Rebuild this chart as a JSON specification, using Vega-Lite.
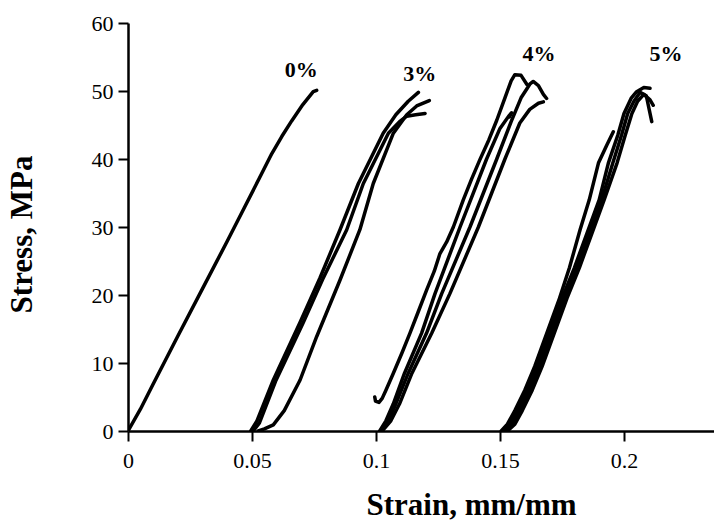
{
  "$schema": "https://vega.github.io/schema/vega-lite/v6.json",
  "width": 586,
  "height": 408,
  "autosize": {"type": "none"},
  "padding": {"left": 128, "top": 23, "right": 0, "bottom": 89},
  "background": "white",
  "config": {"view": {"stroke": null}, "font": "Liberation Serif"},
  "layer": [
    {
      "data": {"values": [
        {"c":"0a","x":0,"y":0},{"c":"0a","x":0.005,"y":3.2},{"c":"0a","x":0.01,"y":6.8},{"c":"0a","x":0.02,"y":13.9},{"c":"0a","x":0.03,"y":20.9},{"c":"0a","x":0.04,"y":27.9},{"c":"0a","x":0.047,"y":32.9},{"c":"0a","x":0.053,"y":37.2},{"c":"0a","x":0.058,"y":40.8},{"c":"0a","x":0.062,"y":43.3},{"c":"0a","x":0.066,"y":45.6},{"c":"0a","x":0.0705,"y":48},{"c":"0a","x":0.0747,"y":49.9},{"c":"0a","x":0.0761,"y":50.1},

        {"c":"3a","x":0.0495,"y":0},{"c":"3a","x":0.052,"y":1.5},{"c":"3a","x":0.0586,"y":7.5},{"c":"3a","x":0.0694,"y":16},{"c":"3a","x":0.0774,"y":22.5},{"c":"3a","x":0.0855,"y":29.6},{"c":"3a","x":0.0929,"y":36.4},{"c":"3a","x":0.1029,"y":43.8},{"c":"3a","x":0.108,"y":46.5},{"c":"3a","x":0.113,"y":48.5},{"c":"3a","x":0.1171,"y":49.8},

        {"c":"3b","x":0.0505,"y":0},{"c":"3b","x":0.053,"y":1.2},{"c":"3b","x":0.0595,"y":7.3},{"c":"3b","x":0.0705,"y":15.8},{"c":"3b","x":0.0785,"y":22.3},{"c":"3b","x":0.0882,"y":29.6},{"c":"3b","x":0.0949,"y":36.4},{"c":"3b","x":0.105,"y":43.8},{"c":"3b","x":0.1095,"y":45.5},{"c":"3b","x":0.1124,"y":46.3},{"c":"3b","x":0.116,"y":46.5},{"c":"3b","x":0.1198,"y":46.7},

        {"c":"3c","x":0.0525,"y":0},{"c":"3c","x":0.055,"y":0.3},{"c":"3c","x":0.0586,"y":0.9},{"c":"3c","x":0.063,"y":3},{"c":"3c","x":0.0694,"y":7.5},{"c":"3c","x":0.0761,"y":13.9},{"c":"3c","x":0.0855,"y":22.2},{"c":"3c","x":0.0935,"y":29.6},{"c":"3c","x":0.0989,"y":36.4},{"c":"3c","x":0.107,"y":43.8},{"c":"3c","x":0.1124,"y":46.5},{"c":"3c","x":0.1164,"y":47.8},{"c":"3c","x":0.1215,"y":48.6},

        {"c":"4a","x":0.0995,"y":5.0},{"c":"4a","x":0.0998,"y":4.4},{"c":"4a","x":0.1012,"y":4.2},{"c":"4a","x":0.1025,"y":4.8},{"c":"4a","x":0.104,"y":6},{"c":"4a","x":0.107,"y":8.5},{"c":"4a","x":0.1105,"y":11.5},{"c":"4a","x":0.1137,"y":14.4},{"c":"4a","x":0.117,"y":17.5},{"c":"4a","x":0.1204,"y":20.7},{"c":"4a","x":0.1235,"y":23.5},{"c":"4a","x":0.1258,"y":26.1},{"c":"4a","x":0.1285,"y":27.8},{"c":"4a","x":0.1312,"y":30},{"c":"4a","x":0.1352,"y":34},{"c":"4a","x":0.1385,"y":37},{"c":"4a","x":0.1419,"y":39.9},{"c":"4a","x":0.1455,"y":42.8},{"c":"4a","x":0.1487,"y":45.7},{"c":"4a","x":0.152,"y":49},{"c":"4a","x":0.1545,"y":51.5},{"c":"4a","x":0.156,"y":52.4},{"c":"4a","x":0.1585,"y":52.3},{"c":"4a","x":0.1608,"y":51},

        {"c":"4c","x":0.1015,"y":0},{"c":"4c","x":0.104,"y":1.5},{"c":"4c","x":0.107,"y":4},{"c":"4c","x":0.1115,"y":8.5},{"c":"4c","x":0.1184,"y":14.4},{"c":"4c","x":0.1238,"y":20.2},{"c":"4c","x":0.1339,"y":30},{"c":"4c","x":0.1446,"y":40},{"c":"4c","x":0.15,"y":44.5},{"c":"4c","x":0.1535,"y":46.3},{"c":"4c","x":0.1547,"y":46.8},{"c":"4c","x":0.1538,"y":46.2},

        {"c":"4b","x":0.102,"y":0},{"c":"4b","x":0.105,"y":1.5},{"c":"4b","x":0.108,"y":4},{"c":"4b","x":0.113,"y":8.5},{"c":"4b","x":0.1204,"y":14.4},{"c":"4b","x":0.1265,"y":20.2},{"c":"4b","x":0.1379,"y":30},{"c":"4b","x":0.1487,"y":40},{"c":"4b","x":0.1545,"y":45.5},{"c":"4b","x":0.1585,"y":49},{"c":"4b","x":0.1608,"y":50.3},{"c":"4b","x":0.162,"y":51},{"c":"4b","x":0.1634,"y":51.4},{"c":"4b","x":0.1655,"y":50.8},{"c":"4b","x":0.1675,"y":49.5},{"c":"4b","x":0.1688,"y":48.9},

        {"c":"4d","x":0.1025,"y":0},{"c":"4d","x":0.106,"y":1.5},{"c":"4d","x":0.1095,"y":4},{"c":"4d","x":0.1145,"y":8.5},{"c":"4d","x":0.1225,"y":14.4},{"c":"4d","x":0.1298,"y":20.2},{"c":"4d","x":0.1413,"y":30},{"c":"4d","x":0.152,"y":40},{"c":"4d","x":0.158,"y":45.3},{"c":"4d","x":0.162,"y":47.3},{"c":"4d","x":0.1655,"y":48.2},{"c":"4d","x":0.1675,"y":48.4},

        {"c":"5a","x":0.1505,"y":0},{"c":"5a","x":0.153,"y":1},{"c":"5a","x":0.156,"y":3},{"c":"5a","x":0.16,"y":6},{"c":"5a","x":0.164,"y":9.5},{"c":"5a","x":0.169,"y":14.5},{"c":"5a","x":0.174,"y":19.5},{"c":"5a","x":0.178,"y":24},{"c":"5a","x":0.1823,"y":29.6},{"c":"5a","x":0.186,"y":34},{"c":"5a","x":0.1897,"y":39.4},{"c":"5a","x":0.193,"y":42},{"c":"5a","x":0.1957,"y":44},

        {"c":"5b","x":0.151,"y":0},{"c":"5b","x":0.154,"y":1},{"c":"5b","x":0.157,"y":3},{"c":"5b","x":0.161,"y":6},{"c":"5b","x":0.165,"y":9.5},{"c":"5b","x":0.17,"y":14.5},{"c":"5b","x":0.175,"y":19.5},{"c":"5b","x":0.18,"y":24},{"c":"5b","x":0.185,"y":29},{"c":"5b","x":0.19,"y":34},{"c":"5b","x":0.1937,"y":39.4},{"c":"5b","x":0.1975,"y":43.5},{"c":"5b","x":0.2,"y":46.7},{"c":"5b","x":0.203,"y":49},{"c":"5b","x":0.2051,"y":49.9},{"c":"5b","x":0.208,"y":50.5},{"c":"5b","x":0.2105,"y":50.4},

        {"c":"5c","x":0.152,"y":0},{"c":"5c","x":0.155,"y":1},{"c":"5c","x":0.158,"y":3},{"c":"5c","x":0.162,"y":6},{"c":"5c","x":0.166,"y":9.5},{"c":"5c","x":0.171,"y":14.5},{"c":"5c","x":0.176,"y":19.5},{"c":"5c","x":0.181,"y":24},{"c":"5c","x":0.186,"y":29},{"c":"5c","x":0.191,"y":34},{"c":"5c","x":0.1955,"y":39.4},{"c":"5c","x":0.199,"y":43.5},{"c":"5c","x":0.2015,"y":46.7},{"c":"5c","x":0.204,"y":48.5},{"c":"5c","x":0.2065,"y":49.8},{"c":"5c","x":0.209,"y":49.3},{"c":"5c","x":0.2112,"y":45.5},

        {"c":"5d","x":0.153,"y":0},{"c":"5d","x":0.156,"y":1},{"c":"5d","x":0.159,"y":3},{"c":"5d","x":0.163,"y":6},{"c":"5d","x":0.167,"y":9.5},{"c":"5d","x":0.172,"y":14.5},{"c":"5d","x":0.177,"y":19.5},{"c":"5d","x":0.182,"y":24},{"c":"5d","x":0.187,"y":29},{"c":"5d","x":0.192,"y":34},{"c":"5d","x":0.1972,"y":39.4},{"c":"5d","x":0.2005,"y":43.5},{"c":"5d","x":0.2032,"y":46.7},{"c":"5d","x":0.2055,"y":48.5},{"c":"5d","x":0.208,"y":49.5},{"c":"5d","x":0.2105,"y":48.7},{"c":"5d","x":0.2118,"y":47.9}
      ]},
      "mark": {"type": "line", "stroke": "black", "strokeWidth": 3.5, "strokeJoin": "round", "strokeCap": "round", "clip": true},
      "encoding": {
        "x": {"field": "x", "type": "quantitative",
          "scale": {"domain": [0, 0.2363], "nice": false, "zero": false},
          "axis": {"values": [0, 0.05, 0.1, 0.15, 0.2], "format": "~g", "title": "Strain, mm/mm", "grid": false,
            "domainColor": "black", "domainWidth": 2.5, "tickColor": "black", "tickWidth": 2, "tickSize": 10,
            "labelFont": "Liberation Serif", "labelFontSize": 22, "labelColor": "black", "labelPadding": 9, "labelFlush": false,
            "titleFont": "Liberation Serif", "titleFontSize": 31, "titleFontWeight": "bold", "titleColor": "black",
            "titleX": 343, "titleY": 74, "titleBaseline": "middle", "titleAlign": "center"}},
        "y": {"field": "y", "type": "quantitative",
          "scale": {"domain": [0, 60], "nice": false},
          "axis": {"values": [0, 10, 20, 30, 40, 50, 60], "title": "Stress, MPa", "grid": false,
            "domainColor": "black", "domainWidth": 2.5, "tickColor": "black", "tickWidth": 2, "tickSize": 10,
            "labelFont": "Liberation Serif", "labelFontSize": 22, "labelColor": "black", "labelPadding": 5, "labelFlush": false,
            "titleFont": "Liberation Serif", "titleFontSize": 31, "titleFontWeight": "bold", "titleColor": "black",
            "titleX": -106, "titleY": 211, "titleAngle": -90, "titleBaseline": "middle", "titleAlign": "center"}},
        "detail": {"field": "c"},
        "order": {"value": null}
      }
    },
    {
      "mark": {"type": "rule", "stroke": "black", "strokeWidth": 2.5},
      "encoding": {"y": {"datum": 60}}
    },
    {
      "data": {"values": [
        {"t": "0%", "x": 0.0699, "y": 53.1},
        {"t": "3%", "x": 0.1176, "y": 52.5},
        {"t": "4%", "x": 0.1657, "y": 55.4},
        {"t": "5%", "x": 0.2169, "y": 55.4}
      ]},
      "mark": {"type": "text", "font": "Liberation Serif", "fontWeight": "bold", "fontSize": 22, "color": "black"},
      "encoding": {
        "x": {"field": "x", "type": "quantitative"},
        "y": {"field": "y", "type": "quantitative"},
        "text": {"field": "t"}
      }
    }
  ]
}
